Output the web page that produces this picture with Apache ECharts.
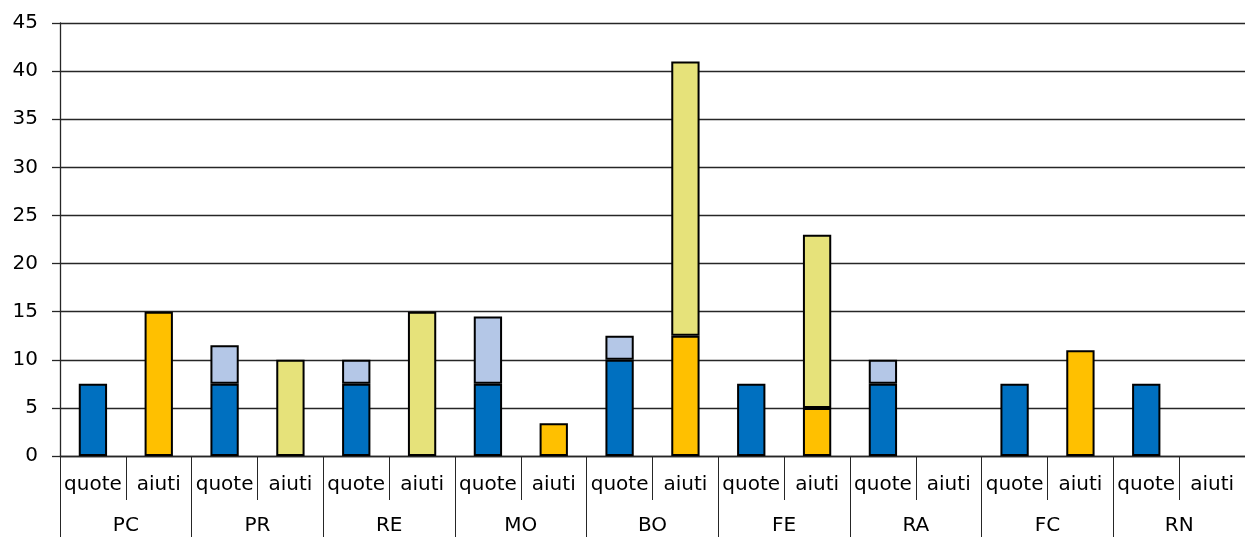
<!DOCTYPE html>
<html>
<head>
<meta charset="utf-8">
<script src="https://cdn.jsdelivr.net/npm/echarts@6/dist/echarts.min.js"></script>
<style>
  html, body { margin: 0; padding: 0; background: #fff; }
  #chart { width: 1245px; height: 537px; }
</style>
</head>
<body>
<div id="chart"></div>
<script>
// Provinces and the two bars shown for each one
const provinces = ['PC', 'PR', 'RE', 'MO', 'BO', 'FE', 'RA', 'FC', 'RN'];
const barKinds = ['quote', 'aiuti'];

// "quote" bar: dark base part and light upper part
const quoteBase  = [7.5, 7.5, 7.5, 7.5, 10, 7.5, 7.5, 7.5, 7.5];
const quoteExtra = [0,   4,   2.5, 7,   2.5, 0,  2.5, 0,   0];

// "aiuti" bar: orange base part and yellow upper part
const aiutiBase  = [15, 0,  0,  3.4, 12.5, 5,  0, 11, 0];
const aiutiExtra = [0,  10, 15, 0,   28.5, 18, 0, 0,  0];

const yTicks = { min: 0, max: 45, interval: 5 };

// One slot per (province, kind) pair
const slots = [];
provinces.forEach(() => barKinds.forEach(k => slots.push(k)));

function spread(values, kindIndex) {
  const out = [];
  values.forEach(v => {
    for (let k = 0; k < barKinds.length; k++) {
      out.push(k === kindIndex && v ? v : null);
    }
  });
  return out;
}

const font = 'DejaVu Sans';
const textColor = '#000';
const lineColor = '#262626';
const border = { borderColor: '#000', borderWidth: 2 };

function bars(name, values, kindIndex, color) {
  return {
    name, type: 'bar', stack: 'all', xAxisIndex: 0,
    barWidth: '43%',
    data: spread(values, kindIndex),
    itemStyle: Object.assign({ color }, border),
    emphasis: { disabled: true }
  };
}

const chart = echarts.init(document.getElementById('chart'));
chart.setOption({
  animation: false,
  backgroundColor: '#fff',
  grid: { left: 60, right: -8, top: 23, bottom: 81, containLabel: false },
  xAxis: [
    {
      type: 'category',
      data: slots,
      position: 'bottom',
      axisLine: { show: true, lineStyle: { color: lineColor, width: 1.3 } },
      axisTick: { show: true, interval: 0, length: 44, lineStyle: { color: lineColor, width: 1 } },
      axisLabel: { interval: 0, color: textColor, fontFamily: font, fontSize: 20, margin: 19 }
    },
    {
      type: 'category',
      data: provinces,
      position: 'bottom',
      axisLine: { show: false },
      axisTick: { show: true, interval: 0, length: 90, lineStyle: { color: lineColor, width: 1 } },
      axisLabel: { interval: 0, color: textColor, fontFamily: font, fontSize: 20, margin: 60 }
    }
  ],
  yAxis: {
    type: 'value',
    min: yTicks.min, max: yTicks.max, interval: yTicks.interval,
    axisLine: { show: true, lineStyle: { color: lineColor, width: 1.3 } },
    axisTick: { show: true, length: 8, lineStyle: { color: lineColor, width: 1.3 } },
    axisLabel: { color: textColor, fontFamily: font, fontSize: 20, margin: 22 },
    splitLine: { show: true, lineStyle: { color: lineColor, width: 1.3 } }
  },
  series: [
    bars('quote base', quoteBase, 0, '#0070C0'),
    bars('quote extra', quoteExtra, 0, '#B4C7E7'),
    bars('aiuti base', aiutiBase, 1, '#FFC000'),
    bars('aiuti extra', aiutiExtra, 1, '#E6E27A')
  ]
});
</script>
</body>
</html>
